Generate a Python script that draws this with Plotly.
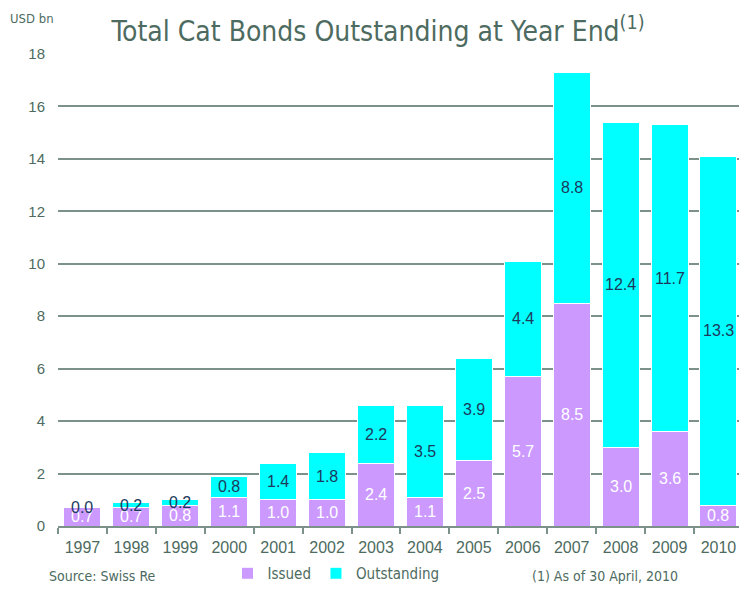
import plotly.graph_objects as go

years = ["1997", "1998", "1999", "2000", "2001", "2002", "2003",
         "2004", "2005", "2006", "2007", "2008", "2009", "2010"]
issued = [0.7, 0.7, 0.8, 1.1, 1.0, 1.0, 2.4, 1.1, 2.5, 5.7, 8.5, 3.0, 3.6, 0.8]
outstanding = [0.0, 0.2, 0.2, 0.8, 1.4, 1.8, 2.2, 3.5, 3.9, 4.4, 8.8, 12.4, 11.7, 13.3]
y_ticks = [0, 2, 4, 6, 8, 10, 12, 14, 16, 18]

PURPLE = "#cc99ff"
CYAN = "#00ffff"
GREEN_TXT = "#4d6b60"
GRID = "#7d918b"
NAVY = "#1c3a5c"
COND = "Liberation Sans Narrow, DejaVu Sans Condensed, Arial Narrow, sans-serif"
REG = "Liberation Sans, Arial, sans-serif"

L, R, T, B, W, H = 58, 0, 54, 60, 739, 590
pw, ph = W - L - R, H - T - B


def px_to_paper(x, y):
    return (x - L) / pw, (H - B - y) / ph


fig = go.Figure()
fig.add_trace(go.Bar(x=years, y=issued, name="Issued",
                     marker=dict(color=PURPLE, line=dict(color="white", width=1))))
fig.add_trace(go.Bar(x=years, y=outstanding, name="Outstanding",
                     marker=dict(color=CYAN, line=dict(color="white", width=1))))

annotations = []
for i, (a, b) in enumerate(zip(issued, outstanding)):
    annotations.append(dict(x=i, y=a / 2, text=f"{a:.1f}", showarrow=False,
                            xref="x", yref="y",
                            font=dict(family=REG, size=16, color="white")))
    annotations.append(dict(x=i, y=a + b / 2, text=f"{b:.1f}", showarrow=False,
                            xref="x", yref="y",
                            font=dict(family=REG, size=16, color=NAVY)))

for txt, xp, yp, anchor, size in [
    ("USD bn", 8, 18, "left", 13),
    ("Source: Swiss Re", 47, 580, "left", 14),
    ("(1) As of 30 April, 2010", 530, 580, "left", 14),
]:
    xx, yy = px_to_paper(xp, yp)
    annotations.append(dict(x=xx, y=yy, xref="paper", yref="paper",
                            xanchor=anchor, yanchor="middle", text=txt,
                            showarrow=False,
                            font=dict(family=COND, size=size, color=GREEN_TXT)))

lx, ly = px_to_paper(336, 578)

fig.update_layout(
    width=W, height=H,
    margin=dict(l=L, r=R, t=T, b=B),
    paper_bgcolor="white", plot_bgcolor="white",
    barmode="stack", bargap=0.245,
    title=dict(text="Total Cat Bonds Outstanding at Year End<sup>(1)</sup>",
               x=378 / W, xanchor="center", y=1 - 31 / H, yanchor="middle",
               font=dict(family=COND, size=28, color=GREEN_TXT)),
    xaxis=dict(type="category", range=[-0.5, 13.42],
               showline=True, linecolor=GRID, linewidth=1.5,
               ticks="outside", tickson="boundaries", ticklen=6,
               tickcolor=GRID, tickwidth=1.5,
               ticklabelstandoff=6,
               tickfont=dict(family=REG, size=16, color=GREEN_TXT),
               showgrid=False),
    yaxis=dict(range=[0, 18], tickvals=y_ticks,
               showgrid=True, gridcolor=GRID, gridwidth=1.5,
               zeroline=False, showline=False, ticks="",
               ticklabelstandoff=12,
               tickfont=dict(family=REG, size=15, color=GREEN_TXT)),
    legend=dict(orientation="h", x=lx, xanchor="center",
                y=ly, yanchor="middle",
                font=dict(family=COND, size=15, color=GREEN_TXT),
                itemwidth=30, traceorder="normal", bgcolor="rgba(0,0,0,0)"),
    annotations=annotations,
    showlegend=True,
)

fig.write_html("out.html")
